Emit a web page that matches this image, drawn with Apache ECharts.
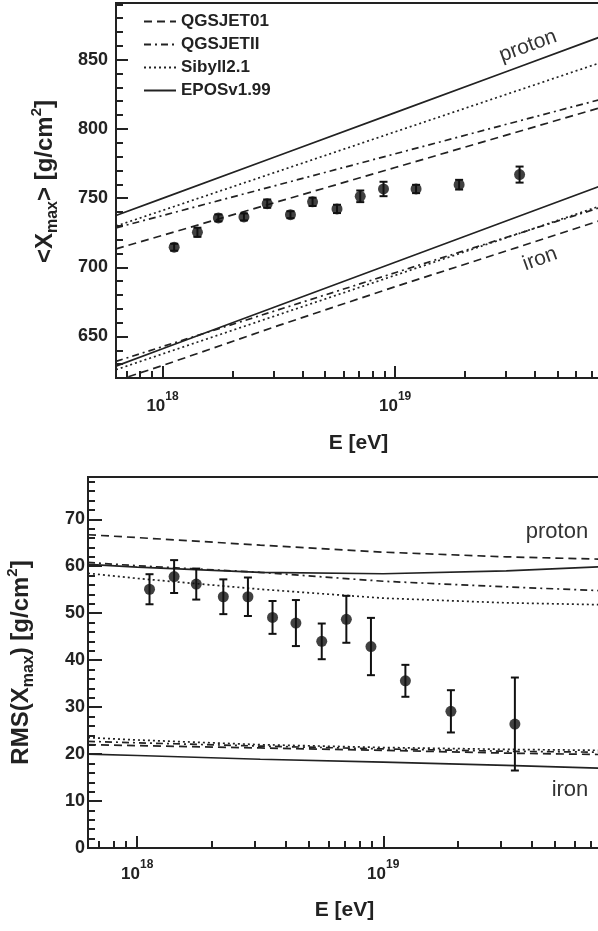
<!DOCTYPE html>
<html>
<head>
<meta charset="utf-8">
<script src="https://cdn.jsdelivr.net/npm/echarts@6/dist/echarts.min.js"></script>
<style>
  html, body { margin: 0; padding: 0; background: #fff; }
  #chart { width: 598px; height: 931px; }
</style>
</head>
<body>
<div id="chart"></div>
<script>
// energies are log10(E / eV)
const dataLgE = [18.05, 18.15, 18.24, 18.35, 18.45, 18.55, 18.645, 18.75, 18.85, 18.95, 19.09, 19.275, 19.535];
const xmaxMean = [714.5, 725.3, 735.7, 736.4, 746.0, 738.0, 747.3, 742.2, 751.3, 756.6, 756.6, 759.7, 767.0];
const xmaxErr = [2.5, 3.3, 2.5, 2.5, 3.0, 2.5, 3.0, 3.0, 4.2, 5.2, 3.0, 3.5, 5.8];
const rmsVal = [55.1, 57.8, 56.2, 53.5, 53.5, 49.1, 47.9, 44.0, 48.7, 42.9, 35.6, 29.1, 26.4];
const rmsErr = [3.2, 3.5, 3.3, 3.7, 4.1, 3.5, 4.9, 3.8, 5.0, 6.1, 3.4, 4.5, 9.9];

// model predictions, sampled at modelLgE
const modelLgE = [17.8, 18.0, 18.5, 19.0, 19.5, 19.885];
const modelNames = ['QGSJET01', 'QGSJETII', 'Sibyll2.1', 'EPOSv1.99'];

const xmaxProton = {
  'QGSJET01': [713.3, 723.1, 747.6, 772.1, 796.6, 815.5],
  'QGSJETII': [728.5, 737.4, 759.7, 782.0, 804.3, 821.4],
  'Sibyll2.1': [729.8, 741.1, 769.5, 797.9, 826.2, 848.0],
  'EPOSv1.99': [737.4, 749.8, 780.8, 811.8, 842.8, 866.7]
};
const xmaxIron = {
  'QGSJET01': [618.0, 629.0, 658.0, 686.0, 713.0, 734.0],
  'QGSJETII': [632.0, 642.7, 669.4, 696.1, 722.8, 743.4],
  'Sibyll2.1': [626.0, 637.4, 665.8, 694.2, 722.6, 744.5],
  'EPOSv1.99': [628.6, 641.1, 672.4, 703.6, 734.9, 758.9]
};
const rmsProton = {
  'QGSJET01': [66.7, 66.1, 64.5, 63.0, 62.0, 61.5],
  'QGSJETII': [60.8, 60.1, 58.7, 56.8, 55.6, 54.8],
  'Sibyll2.1': [58.5, 57.4, 55.1, 53.2, 52.2, 51.8],
  'EPOSv1.99': [60.4, 59.8, 58.7, 58.4, 59.0, 59.9]
};
const rmsIron = {
  'QGSJET01': [22.0, 21.8, 21.3, 20.8, 20.2, 19.9],
  'QGSJETII': [22.7, 22.4, 21.7, 21.1, 20.6, 20.4],
  'Sibyll2.1': [23.5, 23.0, 22.0, 21.4, 21.0, 20.8],
  'EPOSv1.99': [20.0, 19.7, 18.9, 18.3, 17.6, 17.0]
};

// axis ticks
const xMajorExp = [18, 19];
const xMinorE = [7e17, 8e17, 9e17, 2e18, 3e18, 4e18, 5e18, 6e18, 7e18, 8e18, 9e18, 2e19, 3e19, 4e19, 5e19, 6e19, 7e19];
const xmaxTicks = [650, 700, 750, 800, 850];
const rmsTicks = [0, 10, 20, 30, 40, 50, 60, 70];

const FONT = '"Liberation Sans", Arial, Helvetica, sans-serif';
const INK = '#222';
const X_MIN = 17.8, X_MAX = 19.885;

const dashes = {
  'QGSJET01': [8, 5],
  'QGSJETII': [7, 4, 2, 4],
  'Sibyll2.1': [2, 3],
  'EPOSv1.99': 'solid'
};

const xMinorLg = xMinorE.map(e => Math.log10(e));
const xmaxMinor = [];
for (let v = 630; v <= 890; v += 10) if (xmaxTicks.indexOf(v) < 0) xmaxMinor.push(v);
const rmsMinor = [];
for (let v = 2; v <= 78; v += 2) if (rmsTicks.indexOf(v) < 0) rmsMinor.push(v);

function xAxes(grid, name, gap, labelMargin) {
  return [{
    gridIndex: grid, type: 'value', min: X_MIN, max: X_MAX, position: 'bottom',
    axisLine: { show: true, onZero: false, lineStyle: { color: INK, width: 2 } },
    axisTick: { show: true, inside: true, length: 12, customValues: xMajorExp, lineStyle: { color: INK, width: 2 } },
    axisLabel: {
      customValues: xMajorExp, margin: labelMargin,
      formatter: v => '{b|10}{e|' + v + '}',
      rich: {
        b: { fontSize: 17, fontWeight: 'bold', fontFamily: FONT, color: INK, lineHeight: 24, verticalAlign: 'bottom' },
        e: { fontSize: 12, fontWeight: 'bold', fontFamily: FONT, color: INK, lineHeight: 14, verticalAlign: 'top' }
      }
    },
    splitLine: { show: false },
    name: name, nameLocation: 'middle', nameGap: gap,
    nameTextStyle: { fontSize: 21, fontWeight: 'bold', fontFamily: FONT, color: INK }
  }, {
    gridIndex: grid, type: 'value', min: X_MIN, max: X_MAX, position: 'bottom',
    axisLine: { show: false, onZero: false },
    axisTick: { show: true, inside: true, length: 7, customValues: xMinorLg, lineStyle: { color: INK, width: 2 } },
    axisLabel: { show: false },
    splitLine: { show: false }
  }];
}

function yAxes(grid, min, max, major, minor, name, gap, labelMargin, majorLen, namePad) {
  return [{
    gridIndex: grid, type: 'value', min: min, max: max, position: 'left',
    axisLine: { show: true, onZero: false, lineStyle: { color: INK, width: 2 } },
    axisTick: { show: true, inside: true, length: majorLen, customValues: major, lineStyle: { color: INK, width: 2 } },
    axisLabel: { customValues: major, margin: labelMargin, fontSize: 18, fontWeight: 'bold', fontFamily: FONT, color: INK },
    splitLine: { show: false },
    name: name, nameLocation: 'middle', nameGap: gap,
    nameTextStyle: {
      fontSize: 24, fontWeight: 'bold', fontFamily: FONT, color: INK, lineHeight: 32,
      padding: namePad,
      rich: {
        sub: { fontSize: 16, fontWeight: 'bold', fontFamily: FONT, color: INK, verticalAlign: 'bottom', lineHeight: 18 },
        sup: { fontSize: 15, fontWeight: 'bold', fontFamily: FONT, color: INK, verticalAlign: 'top', lineHeight: 18 }
      }
    }
  }, {
    gridIndex: grid, type: 'value', min: min, max: max, position: 'left',
    axisLine: { show: false, onZero: false },
    axisTick: { show: true, inside: true, length: 7, customValues: minor, lineStyle: { color: INK, width: 2 } },
    axisLabel: { show: false },
    splitLine: { show: false }
  }];
}

function modelLine(name, vals, grid) {
  return {
    type: 'line', name: name, xAxisIndex: grid * 2, yAxisIndex: grid * 2,
    data: modelLgE.map((x, i) => [x, vals[i]]),
    symbol: 'none', showSymbol: false, silent: true, clip: true,
    lineStyle: { color: INK, width: 1.7, type: dashes[name] },
    itemStyle: { color: INK },
    z: 2
  };
}

function errBars(vals, errs, grid) {
  return {
    type: 'custom', xAxisIndex: grid * 2, yAxisIndex: grid * 2, silent: true,
    data: dataLgE.map((x, i) => [x, vals[i] - errs[i], vals[i] + errs[i]]),
    encode: { x: 0, y: [1, 2] },
    renderItem: function (params, api) {
      const lo = api.coord([api.value(0), api.value(1)]);
      const hi = api.coord([api.value(0), api.value(2)]);
      const w = 4;
      const st = { stroke: '#111', lineWidth: 2 };
      return {
        type: 'group', children: [
          { type: 'line', shape: { x1: lo[0], y1: lo[1], x2: hi[0], y2: hi[1] }, style: st },
          { type: 'line', shape: { x1: lo[0] - w, y1: lo[1], x2: lo[0] + w, y2: lo[1] }, style: st },
          { type: 'line', shape: { x1: hi[0] - w, y1: hi[1], x2: hi[0] + w, y2: hi[1] }, style: st }
        ]
      };
    },
    z: 3
  };
}

function points(vals, grid) {
  return {
    type: 'scatter', xAxisIndex: grid * 2, yAxisIndex: grid * 2, silent: true,
    data: dataLgE.map((x, i) => [x, vals[i]]),
    symbol: 'circle', symbolSize: 11,
    itemStyle: { color: '#111' },
    z: 4
  };
}

const series = [];
modelNames.forEach(n => {
  series.push(modelLine(n, xmaxProton[n], 0));
  series.push(modelLine(n, xmaxIron[n], 0));
  series.push(modelLine(n, rmsProton[n], 1));
  series.push(modelLine(n, rmsIron[n], 1));
});
series.push(errBars(xmaxMean, xmaxErr, 0), points(xmaxMean, 0));
series.push(errBars(rmsVal, rmsErr, 1), points(rmsVal, 1));

const labelStyle = { fontFamily: FONT, fill: '#333', fontWeight: 'normal', align: 'center', verticalAlign: 'middle' };

const chart = echarts.init(document.getElementById('chart'), null, { renderer: 'canvas' });
chart.setOption({
  animation: false,
  backgroundColor: '#fff',
  grid: [
    { left: 116, top: 3, width: 485, height: 375, show: true, borderColor: INK, borderWidth: 2, outerBoundsMode: 'none' },
    { left: 88, top: 477, width: 513, height: 371, show: true, borderColor: INK, borderWidth: 2, outerBoundsMode: 'none' }
  ],
  legend: {
    data: modelNames, orient: 'vertical', left: 143, top: 13, padding: 0,
    itemWidth: 32, itemHeight: 14, itemGap: 6, selectedMode: false,
    itemStyle: { opacity: 0 },
    textStyle: { fontSize: 17, fontWeight: 'bold', fontFamily: FONT, color: INK }
  },
  xAxis: [].concat(xAxes(0, 'E [eV]', 55, 13), xAxes(1, 'E [eV]', 52, 11)),
  yAxis: [].concat(
    yAxes(0, 620, 891, xmaxTicks, xmaxMinor, '<X{sub|max}> [g/cm{sup|2}]', 55, 8, 12, [0, 0, 0, 18]),
    yAxes(1, 0, 79, rmsTicks, rmsMinor, 'RMS(X{sub|max}) [g/cm{sup|2}]', 51, 3, 14, 0)
  ),
  series: series,
  graphic: [
    { type: 'text', x: 528, y: 46, rotation: 20 * Math.PI / 180, style: Object.assign({ text: 'proton', fontSize: 21 }, labelStyle) },
    { type: 'text', x: 540, y: 259, rotation: 20 * Math.PI / 180, style: Object.assign({ text: 'iron', fontSize: 21 }, labelStyle) },
    { type: 'text', x: 557, y: 532, style: Object.assign({ text: 'proton', fontSize: 22 }, labelStyle) },
    { type: 'text', x: 570, y: 790, style: Object.assign({ text: 'iron', fontSize: 22 }, labelStyle) }
  ]
});
</script>
</body>
</html>
